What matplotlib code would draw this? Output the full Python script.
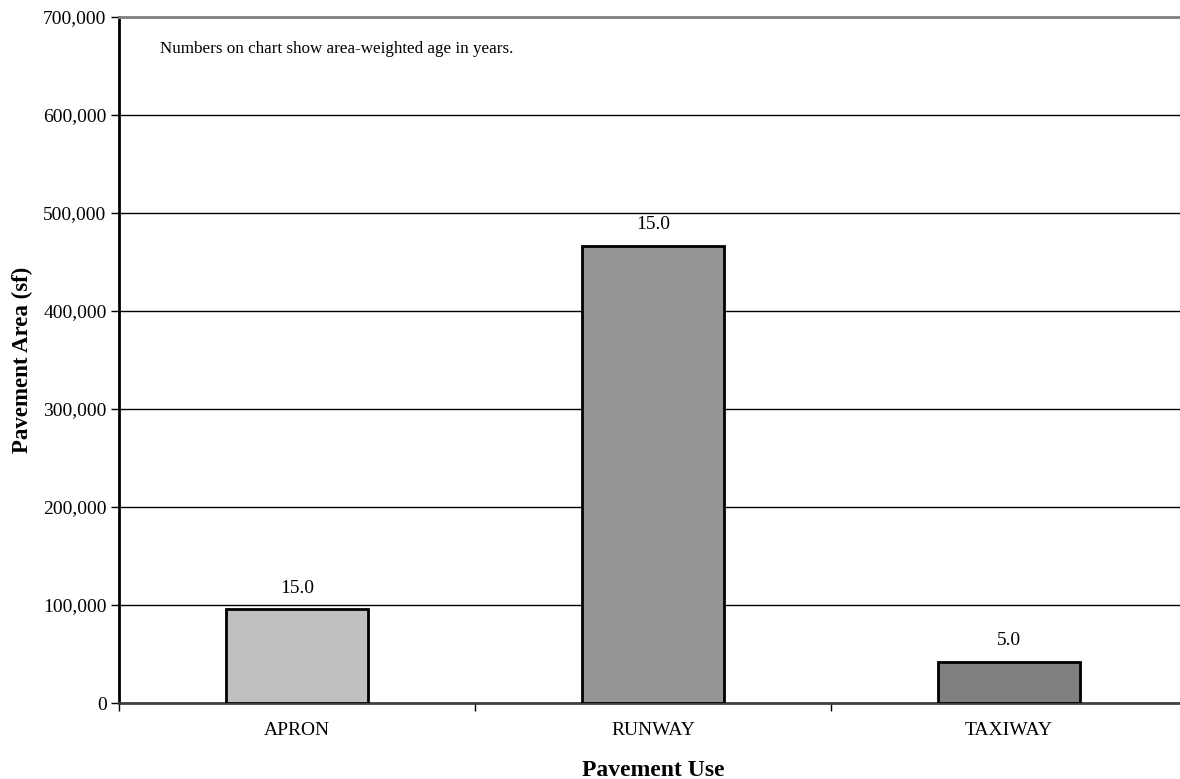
import numpy as np
import matplotlib.pyplot as plt
from matplotlib.ticker import FuncFormatter, FixedLocator

plt.rcParams['font.family'] = ['Liberation Serif', 'DejaVu Serif']

categories = ['APRON', 'RUNWAY', 'TAXIWAY']
areas = [95500, 466600, 42100]
ages = [15.0, 15.0, 5.0]
colors = ['#C0C0C0', '#969696', '#808080']

fig = plt.figure(figsize=(11.8, 7.79), dpi=100)
ax = fig.add_axes([119 / 1180, 1 - 703 / 779, 1068 / 1180, 686 / 779])

x = np.arange(len(categories))
bars = ax.bar(x, areas, width=0.40, color=colors, edgecolor='black', linewidth=2.0, zorder=3)

# area-weighted age above each bar
for b, age in zip(bars, ages):
    ax.annotate(f'{age:.1f}', (b.get_x() + b.get_width() / 2, b.get_height()),
                xytext=(0, 9), textcoords='offset points', ha='center', va='bottom', fontsize=14)

ax.set_xlim(-0.5, len(categories) - 0.5)
ax.set_ylim(0, 700000)
ax.set_yticks(np.arange(0, 700001, 100000))
ax.yaxis.set_major_formatter(FuncFormatter(lambda v, p: f'{int(v):,}'))
ax.grid(axis='y', color='black', linewidth=1.0, zorder=0)

ax.set_xticks(x)
ax.set_xticklabels(categories, fontsize=14)
ax.xaxis.set_minor_locator(FixedLocator(np.arange(-0.5, len(categories), 1.0)))
ax.tick_params(axis='x', which='major', length=0, pad=14)
ax.tick_params(axis='x', which='minor', length=6, width=1, direction='out')
ax.tick_params(axis='y', labelsize=14, length=6, width=1, direction='out', pad=3)

ax.spines['right'].set_visible(False)
ax.spines['top'].set_color('#808080')
ax.spines['top'].set_linewidth(2)
ax.spines['left'].set_linewidth(2)
ax.spines['bottom'].set_color('#404040')
ax.spines['bottom'].set_linewidth(2)

ax.set_ylabel('Pavement Area (sf)', fontsize=16.5, fontweight='bold', labelpad=7)
ax.set_xlabel('Pavement Use', fontsize=17, fontweight='bold', labelpad=15)

ax.text(0.038, 0.953, 'Numbers on chart show area-weighted age in years.',
        transform=ax.transAxes, fontsize=12.25, va='center', ha='left')

fig.savefig('out.png', dpi=100)
